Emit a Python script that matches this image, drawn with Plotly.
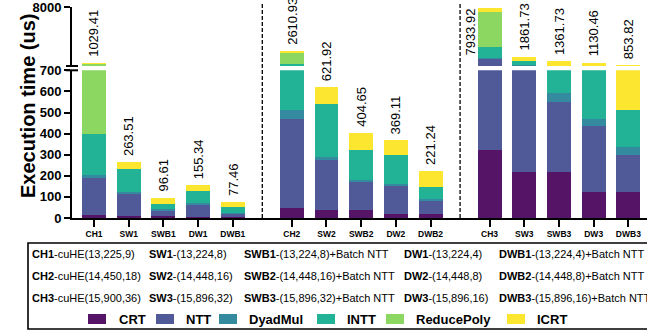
import plotly.graph_objects as go

# ---------------- data ----------------
categories = ["CH1", "SW1", "SWB1", "DW1", "DWB1",
              "CH2", "SW2", "SWB2", "DW2", "DWB2",
              "CH3", "SW3", "SWB3", "DW3", "DWB3"]
totals = [1029.41, 263.51, 96.61, 155.34, 77.46,
          2610.93, 621.92, 404.65, 369.11, 221.24,
          7933.92, 1861.73, 1361.73, 1130.46, 853.82]

crt        = [14, 9, 8, 5, 4,      47, 38, 38, 19, 19,     322, 218, 218, 123, 123]
ntt        = [177, 104, 27, 56, 17, 421, 236, 132, 132, 61, 1278, 520, 331, 312, 175]
dyadmul    = [12, 11, 8, 10, 5,    43, 15, 10, 10, 10,     85, 40, 42, 33, 38]
intt       = [194, 108, 23, 57, 25, 430, 250, 142, 137, 57, 1355, 560, 170, 292, 175]
reducepoly = [622, 0, 0, 0, 0,     1470, 0, 0, 0, 0,      4310, 0, 0, 0, 0]
icrt       = [10.41, 31.51, 30.61, 27.34, 26.46,
              199.93, 82.92, 82.65, 71.11, 74.24,
              583.92, 523.73, 600.73, 370.46, 342.82]

series_names = ["CRT", "NTT", "DyadMul", "INTT", "ReducePoly", "ICRT"]
series_values = [crt, ntt, dyadmul, intt, reducepoly, icrt]
series_colors = ["#561467", "#505a98", "#348a9e", "#22b396", "#8cd662", "#fde62f"]

lower_ticks = [0, 100, 200, 300, 400, 500, 600, 700]
upper_ticks = [8000]

table_rows = [
    [("CH1", "-cuHE(13,225,9)"), ("SW1", "-(13,224,8)"), ("SWB1", "-(13,224,8)+Batch NTT"),
     ("DW1", "-(13,224,4)"), ("DWB1", "-(13,224,4)+Batch NTT")],
    [("CH2", "-cuHE(14,450,18)"), ("SW2", "-(14,448,16)"), ("SWB2", "-(14,448,16)+Batch NTT"),
     ("DW2", "-(14,448,8)"), ("DWB2", "-(14,448,8)+Batch NTT")],
    [("CH3", "-cuHE(15,900,36)"), ("SW3", "-(15,896,32)"), ("SWB3", "-(15,896,32)+Batch NTT"),
     ("DW3", "-(15,896,16)"), ("DWB3", "-(15,896,16)+Batch NTT")],
]

# ---------------- layout geometry ----------------
W, H = 647, 336
ML, MT, MB = 72, 7, 118
PW = W - ML
PH = H - MT - MB
BOTTOM = H - MB  # pixel y of x axis


def px(xp):
    return (xp - ML) / PW


def py(yp):
    return (BOTTOM - yp) / PH


group_gap = 5.7
xpos = [g * group_gap + i for g in range(3) for i in range(5)]
x_range = [-0.634, 15.937]

FONT = "Liberation Sans, Arial, sans-serif"

fig = go.Figure()
for name, vals, col in zip(series_names, series_values, series_colors):
    for ax in ["y", "y2"]:
        fig.add_trace(go.Bar(x=xpos, y=vals, name=name, marker=dict(color=col, line=dict(width=0)),
                             width=0.69, yaxis=ax, showlegend=False, hoverinfo="y+name"))

lower_dom = [0, py(70.3)]
upper_dom = [py(66), 1]

fig.update_layout(
    width=W, height=H, barmode="stack",
    margin=dict(l=ML, r=0, t=MT, b=MB),
    plot_bgcolor="white", paper_bgcolor="white",
    font=dict(family=FONT, color="black"),
    xaxis=dict(range=x_range, tickvals=xpos, ticktext=categories, showgrid=False, zeroline=False,
               showline=True, linewidth=2, linecolor="black", ticks="outside", ticklen=7, tickwidth=2,
               tickcolor="black", tickfont=dict(size=8.5, weight="bold", family=FONT), anchor="y"),
    yaxis=dict(domain=lower_dom, range=[0, 700], tickvals=lower_ticks, showgrid=False, zeroline=False,
               showline=True, linewidth=2, linecolor="black", ticks="outside", ticklen=6, tickwidth=2,
               tickcolor="black", tickfont=dict(size=13, weight="bold", family=FONT), anchor="x",
               ticklabeloverflow="allow"),
    yaxis2=dict(domain=upper_dom, range=[700, 8000], tickvals=upper_ticks, showgrid=False, zeroline=False,
                showline=True, linewidth=2, linecolor="black", ticks="outside", ticklen=6, tickwidth=2,
                tickcolor="black", tickfont=dict(size=13, weight="bold", family=FONT), anchor="x",
                ticklabeloverflow="allow"),
)

annotations = []
# total labels
for x, t in zip(xpos, totals):
    label = f"{t:.2f}"
    if t > 6000:
        annotations.append(dict(x=x, y=8000, xref="x", yref="y2", text=label, textangle=-90,
                                showarrow=False, xanchor="center", yanchor="top", xshift=-19.5,
                                font=dict(size=13, family=FONT)))
    else:
        annotations.append(dict(x=x, y=t, xref="x", yref="y" if t <= 700 else "y2", text=label,
                                textangle=-90, showarrow=False, xanchor="center", yanchor="bottom",
                                yshift=4, font=dict(size=13, family=FONT)))

# y-axis title
annotations.append(dict(x=px(15), y=py(106), xref="paper", yref="paper", text="<b>Execution time (us)</b>",
                        textangle=-90, showarrow=False, font=dict(size=20, family=FONT)))

# table text
col_x = [30, 147, 242, 402, 497]
row_y = [254, 276, 298]
for r, row in enumerate(table_rows):
    for c, (bold, rest) in enumerate(row):
        annotations.append(dict(x=px(col_x[c]), y=py(row_y[r]), xref="paper", yref="paper",
                                text=f"<b>{bold}</b>{rest}", showarrow=False, xanchor="left",
                                yanchor="middle", font=dict(size=11, family=FONT)))

shapes = []
# legend
leg_sq_x = [88, 156, 219, 317, 386, 507]
leg_tx_x = [117, 184, 247, 345, 414, 535]
for name, col, sx, tx in zip(series_names, series_colors, leg_sq_x, leg_tx_x):
    shapes.append(dict(type="rect", xref="paper", yref="paper", x0=px(sx), x1=px(sx + 18),
                       y0=py(324), y1=py(314), fillcolor=col, line=dict(width=0)))
    annotations.append(dict(x=px(tx), y=py(319), xref="paper", yref="paper", text=f"<b>{name}</b>",
                            showarrow=False, xanchor="left", yanchor="middle",
                            font=dict(size=13, family=FONT)))

# table box
shapes.append(dict(type="rect", xref="paper", yref="paper", x0=px(28), x1=px(652), y0=py(329), y1=py(243),
                   line=dict(color="black", width=1.6), fillcolor="rgba(0,0,0,0)"))

# dashed group separators
for g in range(2):
    xs = (xpos[g * 5 + 4] + xpos[g * 5 + 5]) / 2
    shapes.append(dict(type="line", xref="x", yref="paper", x0=xs, x1=xs, y0=0, y1=py(4),
                       line=dict(color="black", width=1.3, dash="4px,2px")))

# axis break marks
for yb in [66, 70.3]:
    shapes.append(dict(type="line", xref="paper", yref="paper", x0=px(66), x1=px(78), y0=py(yb), y1=py(yb),
                       line=dict(color="black", width=2)))

fig.update_layout(annotations=annotations, shapes=shapes)
fig.write_html("out.html", config={"displayModeBar": False},
               post_script="document.body.style.margin='0';document.body.style.overflow='hidden';")
